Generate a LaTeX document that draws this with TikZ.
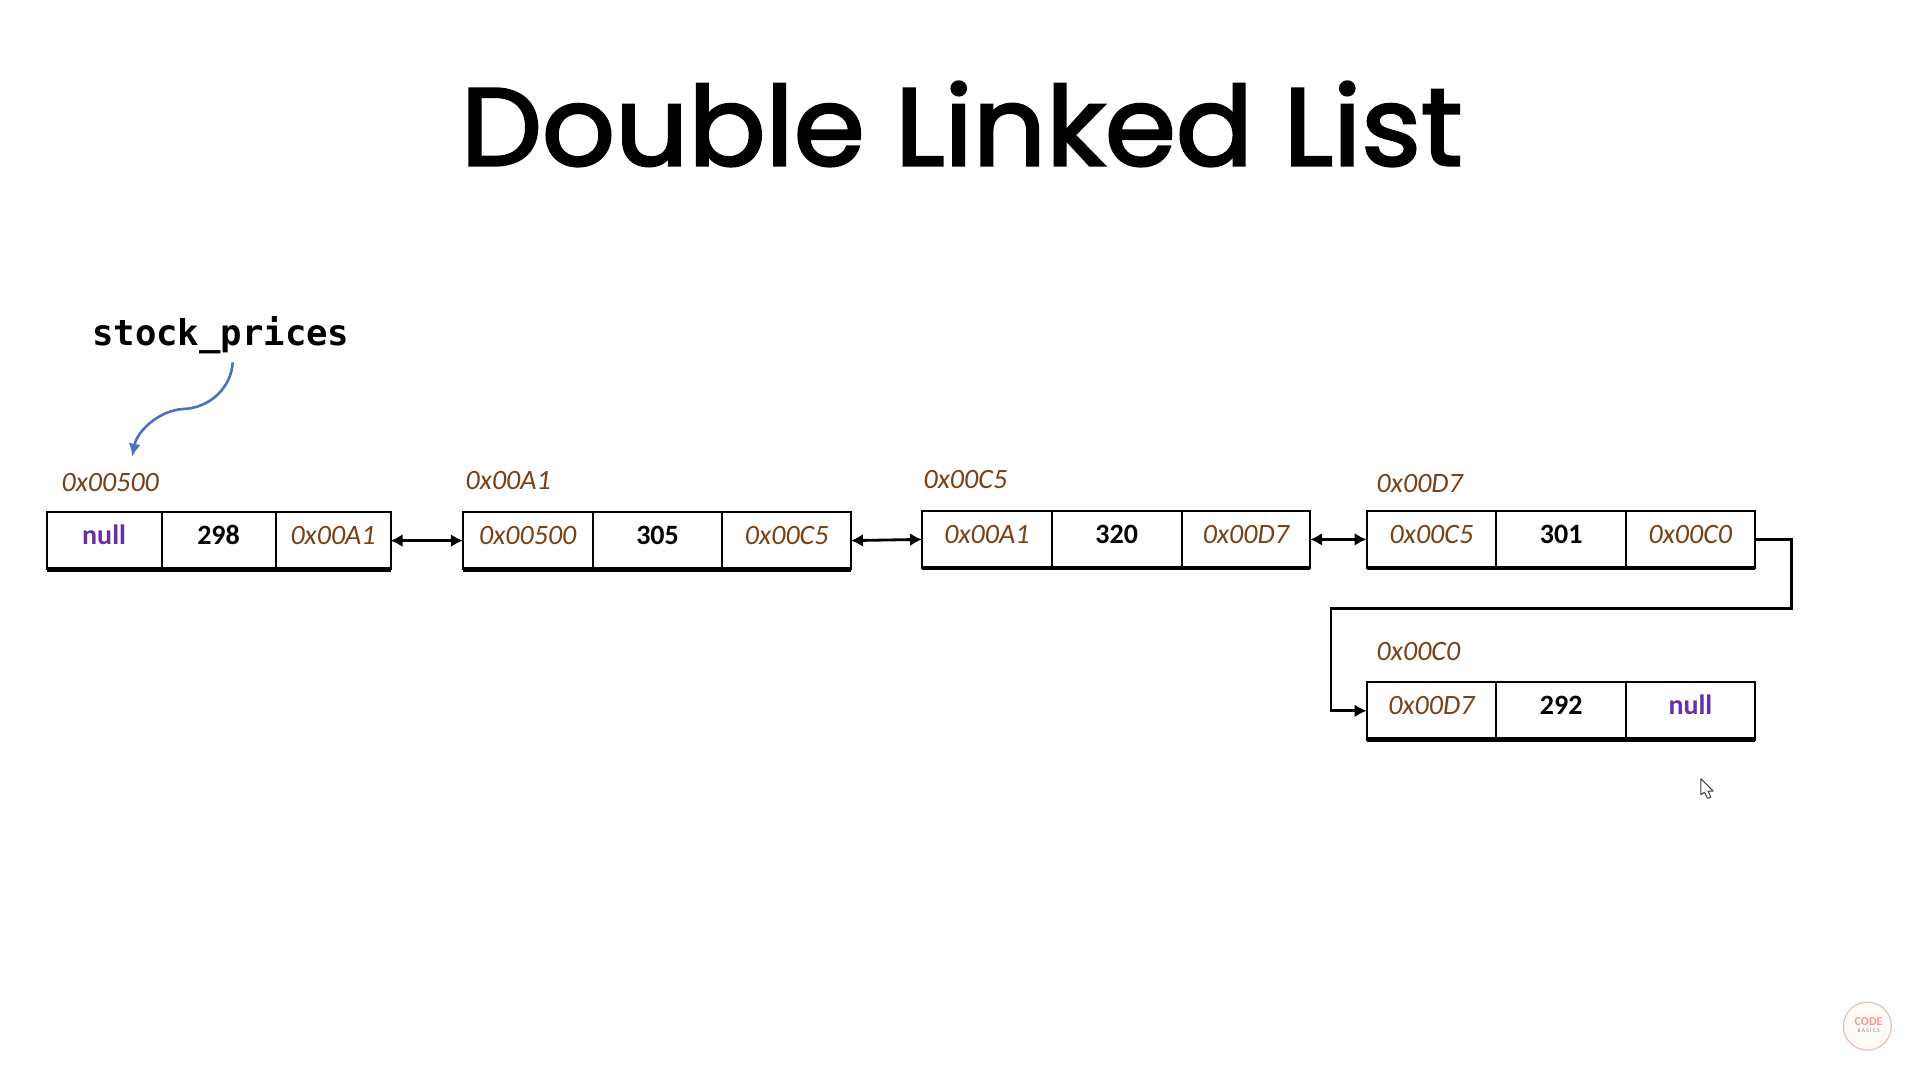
\documentclass[tikz,border=0pt]{standalone}
\usepackage{fontspec}
\usetikzlibrary{arrows.meta}
\setmainfont{Carlito}
\newfontfamily\titlefont[FakeBold=2.4,FakeStretch=1.04]{Poppins}
\newfontfamily\codefont{DejaVu Sans Mono}
\definecolor{addr}{HTML}{7A4016}
\definecolor{nul}{HTML}{6A2FA0}
\definecolor{curve}{HTML}{4A72BE}
\tikzset{
  x=0.612245pt,y=-0.612245pt,
  cellbox/.style={draw=black,line width=1pt,inner sep=0pt,outer sep=0pt,align=center,text height=16.4pt,text depth=12.4pt,minimum height=28.8pt},
  addrcell/.style={cellbox,text=addr,font=\fontsize{14}{16}\selectfont\itshape},
  valcell/.style={cellbox,text=black,font=\fontsize{14}{16}\selectfont\bfseries},
  nullcell/.style={cellbox,text=nul,font=\fontsize{14}{16}\selectfont\bfseries},
  addrlabel/.style={anchor=base west,inner sep=0pt,text=addr,font=\fontsize{14}{16}\selectfont\itshape},
  bottomline/.style={line width=2.2pt,black},
  link/.style={line width=1.4pt,black,{Latex[length=6pt,width=6.5pt]}-{Latex[length=6pt,width=6.5pt]}},
  elbow/.style={line width=1.4pt,black,-{Latex[length=6pt,width=6.5pt]}},
}
\newcommand{\ucell}[7]{\node[#6,minimum width={(#3-#2)*0.612245pt}] (#1) at ({(#2+#3)/2},{(#4+#5)/2}) {#7};}
\begin{document}
\begin{tikzpicture}
\useasboundingbox (0,0) rectangle (1568,882);
\fill[white] (0,0) rectangle (1568,882);
\node[inner sep=0pt,anchor=base,font=\titlefont\fontsize{55}{60}\selectfont] (title) at (785.5,135) {Double Linked List};
\node[inner sep=0pt,anchor=base west,font=\codefont\bfseries\fontsize{17.8}{20}\selectfont] (var) at (75,282) {stock\_prices};
% labels
\node[addrlabel] (l1) at (50,401) {0x00500};
\node[addrlabel] (l2) at (380,400) {0x00A1};
\node[addrlabel] (l3) at (754,399) {0x00C5};
\node[addrlabel] (l4) at (1124,402) {0x00D7};
\node[addrlabel] (l5) at (1124,539) {0x00C0};
% list 1
\ucell{a1}{38}{132}{418}{465}{nullcell}{null}
\ucell{b1}{132}{225}{418}{465}{valcell}{298}
\ucell{c1}{225}{319}{418}{465}{addrcell}{0x00A1}
\ucell{a2}{378}{484}{418}{465}{addrcell}{0x00500}
\ucell{b2}{484}{590}{418}{465}{valcell}{305}
\ucell{c2}{590}{695}{418}{465}{addrcell}{0x00C5}
\ucell{a3}{753}{859}{417}{464}{addrcell}{0x00A1}
\ucell{b3}{859}{965}{417}{464}{valcell}{320}
\ucell{c3}{965}{1070}{417}{464}{addrcell}{0x00D7}
\ucell{a4}{1116}{1222}{417}{464}{addrcell}{0x00C5}
\ucell{b4}{1222}{1328}{417}{464}{valcell}{301}
\ucell{c4}{1328}{1433}{417}{464}{addrcell}{0x00C0}
\ucell{a5}{1116}{1222}{557}{604}{addrcell}{0x00D7}
\ucell{b5}{1222}{1328}{557}{604}{valcell}{292}
\ucell{c5}{1328}{1433}{557}{604}{nullcell}{null}
\foreach \i in {1,...,5}{\draw[bottomline] (a\i.south west) -- (c\i.south east);}
% links
\draw[link] (c1.east) -- (a2.west);
\draw[link] (c2.east) -- (a3.west);
\draw[link] (c3.east) -- (a4.west);
\coordinate (e1) at (1463,497);
\coordinate (e2) at (1087,497);
\draw[elbow] (c4.east) -| (e1) -- (e2) |- (a5.west);
% pointer
\coordinate (ptr) at (108,373);
\draw[curve,line width=1.3pt,-{Latex[length=6.5pt,width=6pt]}] (190,296) .. controls (189,316) and (172,333) .. (150,334) .. controls (130,335) and (112,352) .. (ptr);
% cursor
\draw[line width=0.5pt,draw=black!75,fill=white,line join=round] (1389,636) -- (1389,649) -- (1392,647) -- (1394.5,652) -- (1397,651) -- (1395,646) -- (1399,646) -- cycle;
% logo
\node[circle,minimum size=24pt,inner sep=0pt,draw=red!60!black!25,line width=0.6pt,fill=red!5!orange!4] (logo) at (1525,838) {};
\node[inner sep=0pt,text=red!60!white!70,font=\bfseries\fontsize{6}{6}\selectfont] (logoa) at (1526,834) {CODE};
\node[inner sep=0pt,text=black!50,font=\fontsize{2.8}{3}\selectfont] (logob) at (1526,842) {B A S I C S};
\end{tikzpicture}
\end{document}
